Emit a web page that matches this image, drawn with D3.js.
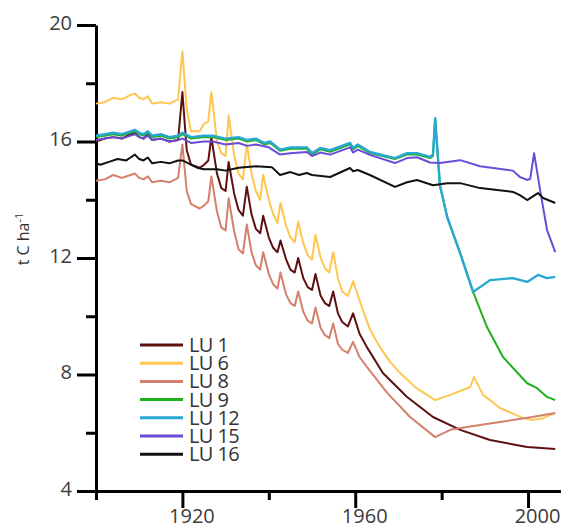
<!DOCTYPE html>
<html>
<head>
<meta charset="utf-8">
<script src="https://cdn.jsdelivr.net/npm/d3@7"></script>
<style>
  body { margin: 0; background: #fff; }
  svg { display: block; font-family: "Open Sans", sans-serif; }
</style>
</head>
<body>
<svg id="chart" width="561" height="527"></svg>
<script>
// series: [year, t C ha-1]
var lu1 = [[1900,16.0],[1902,16.1],[1904,16.15],[1906,16.1],[1908,16.25],[1909,16.3],[1910,16.15],[1911,16.1],[1912,16.25],[1913,16.05],[1915,16.1],[1917,16.0],[1919,16.05],
  [1920,17.7],[1921,15.7],[1922,15.2],[1924,15.1],[1925,15.2],[1926,15.35],[1926.7,16.15],[1928,14.9],[1929,14.4],[1930,14.3],[1930.7,15.3],
  [1932,14.2],[1933,13.65],[1934,13.45],[1934.9,14.45],[1936,13.5],[1937,13.0],[1938,12.85],[1938.7,13.45],[1940,12.7],[1941,12.35],[1942,12.2],
  [1942.7,12.6],[1944,11.95],[1945,11.6],[1946,11.5],[1946.8,12.0],[1948,11.3],[1949,11.0],[1950,10.9],[1950.8,11.45],[1952,10.7],[1953,10.45],
  [1954,10.35],[1954.9,10.85],[1956,10.1],[1957,9.8],[1958.3,9.65],[1959.5,10.1],[1961,9.4],[1962.7,8.94],[1966.4,8.05],[1972,7.23],[1978,6.54],
  [1984.3,6.1],[1991.2,5.75],[1999.8,5.51],[2006.3,5.44]];

var lu6 = [[1900,17.3],[1902,17.35],[1904,17.5],[1906,17.45],[1908,17.6],[1909,17.65],[1910,17.5],[1911,17.45],[1912,17.55],[1913,17.3],[1915,17.35],[1917,17.3],[1919,17.45],
  [1920,19.1],[1921,17.1],[1922,16.35],[1924,16.35],[1925,16.6],[1926,16.7],[1926.7,17.7],[1928,16.0],[1929,15.6],[1930,15.5],[1930.7,16.9],
  [1932,15.5],[1933,14.9],[1934,14.7],[1934.9,15.9],[1936,14.9],[1937,14.3],[1938,14.0],[1938.7,14.85],[1940,14.0],[1941,13.5],[1942,13.2],
  [1942.7,13.9],[1944,13.1],[1945,12.7],[1946,12.55],[1946.8,13.25],[1948,12.5],[1949,12.1],[1950,11.95],[1950.8,12.8],[1952,12.0],[1953,11.65],
  [1954,11.5],[1954.9,12.2],[1956,11.3],[1957,10.85],[1958.3,10.7],[1959.5,11.2],[1961.8,10.2],[1963.4,9.55],[1965.7,8.94],[1968,8.45],
  [1970.4,8.05],[1974,7.55],[1978.5,7.12],[1982,7.3],[1986.6,7.57],[1987.5,7.91],[1989.6,7.3],[1993.5,6.85],[1998.8,6.51],[2001,6.44],
  [2003.5,6.5],[2006.3,6.68]];

var lu8 = [[1900,14.65],[1902,14.7],[1904,14.85],[1906,14.75],[1908,14.85],[1909,14.9],[1910,14.75],[1911,14.7],[1912,14.8],[1913,14.6],[1915,14.65],[1917,14.6],[1919,14.75],
  [1920,15.9],[1921,14.3],[1922,13.85],[1924,13.7],[1925,13.8],[1926,13.95],[1926.7,14.8],[1928,13.6],[1929,13.05],[1930,12.95],[1930.7,14.05],
  [1932,12.9],[1933,12.3],[1934,12.15],[1934.9,13.15],[1936,12.2],[1937,11.75],[1938,11.6],[1938.7,12.2],[1940,11.45],[1941,11.1],[1942,10.95],
  [1942.7,11.5],[1944,10.75],[1945,10.45],[1946,10.35],[1946.8,10.85],[1948,10.15],[1949,9.85],[1950,9.75],[1950.8,10.3],[1952,9.6],[1953,9.35],
  [1954,9.25],[1954.9,9.75],[1956,9.05],[1957,8.85],[1958.3,8.74],[1959.5,9.12],[1961,8.6],[1962.7,8.26],[1967.4,7.37],[1972.7,6.54],
  [1978.5,5.85],[1982,6.1],[1985.9,6.2],[1993.5,6.37],[2001,6.54],[2006.3,6.68]];

var lu9 = [[1900,16.15],[1902,16.2],[1904,16.25],[1906,16.2],[1908,16.3],[1909,16.35],[1910,16.25],[1911,16.2],[1912,16.3],[1913,16.15],[1915,16.2],[1917,16.1],[1919,16.15],
  [1920,16.25],[1922,16.1],[1925,16.15],[1927,16.15],[1930,16.05],[1933,16.1],[1935,16.0],[1937,16.05],[1939,15.9],[1940.3,15.95],[1942.6,15.68],
  [1945,15.75],[1948.8,15.75],[1950,15.55],[1951.9,15.73],[1954.2,15.65],[1958.8,15.9],[1959.5,15.73],[1960.6,15.85],[1963.4,15.6],[1969.2,15.4],
  [1972,15.55],[1974.3,15.55],[1977.3,15.43],[1978,15.5],[1978.5,16.75],[1979.6,14.5],[1981.3,13.4],[1984.3,12.16],[1987.3,10.83],
  [1990.5,9.63],[1994.2,8.6],[1999.8,7.7],[2002.1,7.53],[2004.4,7.23],[2006.3,7.12]];

var lu12 = [[1900,16.2],[1902,16.25],[1904,16.3],[1906,16.25],[1908,16.35],[1909,16.4],[1910,16.3],[1911,16.25],[1912,16.35],[1913,16.2],[1915,16.25],[1917,16.15],[1919,16.2],
  [1920,16.3],[1922,16.15],[1925,16.2],[1927,16.2],[1930,16.1],[1933,16.15],[1935,16.05],[1937,16.1],[1939,15.95],[1940.3,16.0],[1942.6,15.72],
  [1945,15.8],[1948.8,15.8],[1950,15.6],[1951.9,15.78],[1954.2,15.7],[1958.8,15.95],[1959.5,15.78],[1960.6,15.9],[1963.4,15.64],[1969.2,15.43],
  [1972,15.6],[1974.3,15.6],[1977.3,15.47],[1978,15.55],[1978.5,16.8],[1979.6,14.5],[1981.3,13.4],[1984.3,12.16],[1987.3,10.83],
  [1991.2,11.24],[1996.5,11.31],[1999.8,11.18],[2002.3,11.42],[2004.4,11.31],[2006.3,11.35]];

var lu15 = [[1900,16.05],[1902,16.1],[1904,16.15],[1906,16.1],[1908,16.2],[1909,16.25],[1910,16.15],[1911,16.1],[1912,16.2],[1913,16.05],[1915,16.1],[1917,16.0],[1919,16.05],
  [1920,16.1],[1922,15.95],[1925,16.0],[1927,16.0],[1930,15.9],[1933,15.95],[1935,15.85],[1937,15.9],[1940,15.8],[1942.6,15.55],[1945,15.6],
  [1948.8,15.64],[1950,15.5],[1951.9,15.62],[1954.2,15.55],[1958.8,15.8],[1959.5,15.62],[1960.6,15.72],[1963.4,15.54],[1969.2,15.26],[1972,15.43],
  [1974.3,15.46],[1977.3,15.28],[1979.6,15.26],[1984.3,15.36],[1988.9,15.15],[1996.5,15.0],[1998.1,14.78],[1999.8,14.68],[2000.5,14.72],
  [2001.4,15.6],[2002.8,14.33],[2004.4,12.96],[2006.3,12.2]];

var lu16 = [[1900,15.26],[1901,15.2],[1903,15.3],[1905,15.4],[1907,15.35],[1908,15.45],[1909,15.55],[1910,15.4],[1911,15.35],[1912,15.45],[1913,15.25],[1915,15.3],
  [1917,15.25],[1919,15.35],[1920,15.35],[1923.4,15.1],[1925,15.05],[1928,15.05],[1930,15.0],[1933,15.1],[1937,15.15],[1940.7,15.12],[1942.6,14.85],
  [1945,14.95],[1947,14.85],[1948.8,14.92],[1950,14.85],[1954.2,14.78],[1958.8,15.09],[1959.5,14.98],[1960.6,15.02],[1963.4,14.85],[1969.2,14.44],
  [1972,14.6],[1974.3,14.68],[1978,14.5],[1981.3,14.57],[1984.3,14.57],[1988.9,14.4],[1996.5,14.27],[1998.1,14.16],[1999.8,13.99],[2002.3,14.23],
  [2003.5,14.06],[2006.3,13.89]];

var seriesNames = ["LU 1", "LU 6", "LU 8", "LU 9", "LU 12", "LU 15", "LU 16"];
var seriesData = [lu1, lu6, lu8, lu9, lu12, lu15, lu16];
var colors = ["#5c1010", "#ffc650", "#d4806c", "#1fb01f", "#2aa8d4", "#6a4cd8", "#111111"];

var yMajor = [4, 8, 12, 16, 20];
var yMinor = [6, 10, 14, 18];
var xMajor = [1920, 1960, 2000];
var xMinor = [1900, 1940, 1980];

var svg = d3.select("#chart");

var x = d3.scaleLinear().domain([1900, 2008]).range([96, 562.6]);
var y = d3.scaleLinear().domain([4, 20]).range([491, 25]);

// y axis
svg.append("g")
  .attr("transform", "translate(96,0)")
  .call(d3.axisLeft(y).tickValues(yMinor).tickSize(10).tickSizeOuter(0).tickFormat(""))
  .call(g => g.selectAll("path, line").attr("stroke", "#000").attr("stroke-width", 3));

var yAx = svg.append("g")
  .attr("transform", "translate(96,0)")
  .call(d3.axisLeft(y).tickValues(yMajor).tickSize(19).tickSizeOuter(0).tickPadding(5));
yAx.select(".domain").remove();
yAx.selectAll("line").attr("stroke", "#000").attr("stroke-width", 3);
yAx.selectAll("text")
  .attr("dy", "0.2em")
  .style("font-size", "20px")
  .attr("fill", "#3c3c3c")
  .style("font-family", "Open Sans");

// x axis
svg.append("g")
  .attr("transform", "translate(0,491)")
  .call(d3.axisBottom(x).tickValues(xMinor).tickSize(9).tickSizeOuter(0).tickFormat(""))
  .call(g => g.selectAll("path, line").attr("stroke", "#000").attr("stroke-width", 3));

var xAx = svg.append("g")
  .attr("transform", "translate(0,491)")
  .call(d3.axisBottom(x).tickValues(xMajor).tickSize(17).tickSizeOuter(0).tickFormat(d3.format("d")).tickPadding(1));
xAx.select(".domain").remove();
xAx.selectAll("line").attr("stroke", "#000").attr("stroke-width", 3);
xAx.selectAll("text")
  .attr("dx", 9)
  .style("font-size", "20px")
  .attr("fill", "#3c3c3c")
  .style("font-family", "Open Sans");

// y title
var yt = svg.append("text")
  .attr("transform", "translate(29,239) rotate(-90)")
  .attr("text-anchor", "middle")
  .style("font-size", "16px")
  .attr("fill", "#333");
yt.append("tspan").text("t C ha");
yt.append("tspan").attr("dy", -6).style("font-size", "11px").text("-1");

// lines
var line = d3.line()
  .x(d => x(d[0]))
  .y(d => y(d[1]));

svg.append("g")
  .selectAll("path")
  .data(seriesData)
  .enter()
  .append("path")
    .attr("d", line)
    .attr("fill", "none")
    .attr("stroke", (d, i) => colors[i])
    .attr("stroke-width", (d, i) => i == 4 ? 2.4 : 2)
    .attr("stroke-linejoin", "round");

// legend
var legend = svg.append("g")
  .selectAll("g")
  .data(seriesNames)
  .enter()
  .append("g")
    .attr("transform", (d, i) => "translate(140," + (345 + i * 18.2) + ")");

legend.append("line")
  .attr("x1", 0).attr("x2", 43)
  .attr("stroke", (d, i) => colors[i])
  .attr("stroke-width", 3);

legend.append("text")
  .attr("x", 49)
  .attr("y", 7)
  .text(d => d)
  .style("font-size", "20px")
  .style("letter-spacing", "-0.6px")
  .attr("fill", "#333");
</script>
</body>
</html>
